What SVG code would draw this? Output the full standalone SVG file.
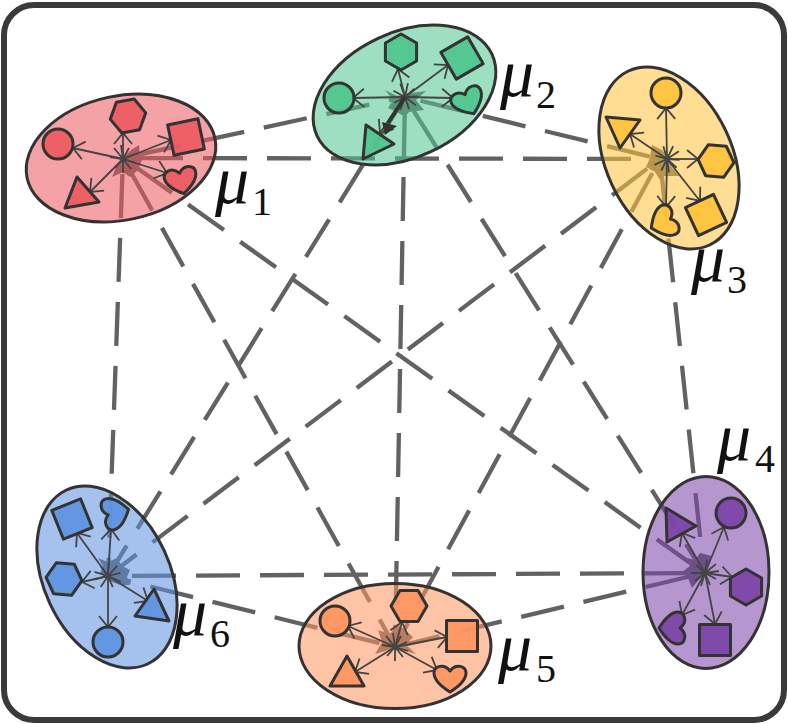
<svg xmlns="http://www.w3.org/2000/svg" width="788" height="724" viewBox="0 0 788 724">
<style>
.frame{fill:#fff;stroke:#3a3a3a;stroke-width:6}
.link{stroke:#626262;stroke-width:4.300;stroke-dasharray:44 20;stroke-dashoffset:48;fill:none}
.hub{fill:#5f5f5f}
.cluster{stroke:#333;stroke-width:3;fill-opacity:.56}
.s{stroke:#333;stroke-width:3;stroke-linejoin:round;fill-opacity:.93}
.a{stroke:#444;stroke-width:1.800;fill:none;marker-end:url(#open)}
.sp{stroke:#444;stroke-width:1.800;fill:none}
.m{font-family:"Liberation Serif","DejaVu Serif",serif;font-style:italic;font-size:68px;fill:#111}
.n{font-family:"Liberation Serif","DejaVu Serif",serif;font-size:40px;fill:#111}
.red{fill:#ec5a60}.green{fill:#50c68e}.yellow{fill:#ffc23c}.purple{fill:#7c44a8}.orange{fill:#ff9460}.blue{fill:#5e93e0}
</style>
<defs>
<marker id="open" markerUnits="userSpaceOnUse" markerWidth="30" markerHeight="30" refX="15" refY="15" orient="auto" overflow="visible"><path d="M4,6 L15,15 L4,24" fill="none" stroke="#444" stroke-width="1.800"/></marker>
<polygon id="hex" points="18,0 9,15.6 -9,15.6 -18,0 -9,-15.6 9,-15.6"/>
<rect id="sq" x="-15.500" y="-15.500" width="31" height="31"/>
<path id="heart" d="M0,14 C-8,9 -16,3 -16,-5 C-16,-12 -6,-15 0,-7 C6,-15 16,-12 16,-5 C16,3 8,9 0,14Z"/>
<path id="spokes" class="sp" d="M0,0L-13,-2M0,0L-9,-11M0,0L-2,-14M0,0L6,-11M0,0L12,-5M0,0L13,4M0,0L8,10M0,0L0,14M0,0L-8,9"/>
</defs>
<rect class="frame" x="4" y="5" width="780" height="715" rx="30"/>
<g id="connectors">
<line class="link" x1="123" y1="158" x2="405" y2="97"/>
<line class="link" x1="123" y1="158" x2="660" y2="159"/>
<line class="link" x1="123" y1="158" x2="704" y2="573"/>
<line class="link" x1="123" y1="158" x2="395" y2="647"/>
<line class="link" x1="123" y1="158" x2="108" y2="576"/>
<line class="link" x1="405" y1="97" x2="660" y2="159"/>
<line class="link" x1="405" y1="97" x2="704" y2="573"/>
<line class="link" x1="405" y1="97" x2="395" y2="647"/>
<line class="link" x1="405" y1="97" x2="108" y2="576"/>
<line class="link" x1="660" y1="159" x2="704" y2="573"/>
<line class="link" x1="660" y1="159" x2="395" y2="647"/>
<line class="link" x1="660" y1="159" x2="108" y2="576"/>
<line class="link" x1="704" y1="573" x2="395" y2="647"/>
<line class="link" x1="704" y1="573" x2="108" y2="576"/>
<line class="link" x1="395" y1="647" x2="108" y2="576"/>
<polygon class="hub" points="139,145 140,156 142,160 138,170 130,177 123,172 112,177 117,165 122,159 131,150"/>
<polygon class="hub" points="385,90 397,96 405,94 426,91 416,100 424,110 409,112 405,117 397,112 388,108 393,100"/>
<polygon class="hub" points="652,145 662,150 667,157 672,168 680,176 664,176 660,180 655,172 646,167 650,158"/>
<polygon class="hub" points="687,558 695,560 700,553 712,556 708,568 703,575 697,582 692,588 688,578 682,572 690,566"/>
<polygon class="hub" points="375,654 382,642 378,630 390,634 397,624 405,630 413,637 406,645 416,654 395,648"/>
<polygon class="hub" points="98,558 108,562 117,558 122,566 130,570 127,577 130,585 120,585 112,582 105,578 100,573 103,566"/>
</g>
<g id="node1">
<ellipse class="cluster red" cx="121" cy="158" rx="96" ry="62" transform="rotate(-12 121 158)"/>
<line class="a" x1="123" y1="159" x2="73" y2="148"/><line class="a" x1="123" y1="159" x2="123" y2="133"/><line class="a" x1="123" y1="159" x2="171" y2="140"/><line class="a" x1="123" y1="159" x2="167" y2="173"/><line class="a" x1="123" y1="159" x2="90" y2="192"/>
<use href="#spokes" transform="translate(123 159)"/>
<circle class="s red" cx="58" cy="144" r="15"/>
<use href="#hex" class="s red" transform="translate(128 116) rotate(-10)"/>
<use href="#sq" class="s red" transform="translate(186 137) rotate(-12)"/>
<use href="#heart" class="s red" transform="translate(181 180) rotate(-12)"/>
<polygon class="s red" points="77,177 99,202 65,208"/>
</g>
<g id="node2">
<ellipse class="cluster green" cx="404.500" cy="95" rx="96.500" ry="62.500" transform="rotate(-25 404.500 95)"/>
<line class="a" x1="405" y1="97" x2="353" y2="98"/><line class="a" x1="405" y1="97" x2="398" y2="69"/><line class="a" x1="405" y1="97" x2="448" y2="65"/><line class="a" x1="405" y1="97" x2="453" y2="98"/><line class="a" x1="405" y1="97" x2="380" y2="133"/>
<use href="#spokes" transform="translate(405 97) rotate(20)"/>
<line x1="405" y1="97" x2="388" y2="123" stroke="#333" stroke-width="4"/>
<polygon points="382,122 397,126 385,135" fill="#333"/>
<circle class="s green" cx="339" cy="98" r="15"/>
<use href="#hex" class="s green" transform="translate(401 52) rotate(30)"/>
<use href="#sq" class="s green" transform="translate(462 58) rotate(-30)"/>
<use href="#heart" class="s green" transform="translate(468 101) rotate(-25)"/>
<polygon class="s green" points="366,125 394,144 363,159"/>
</g>
<g id="node3">
<ellipse class="cluster yellow" cx="669" cy="158" rx="96" ry="63" transform="rotate(65 669 158)"/>
<line class="a" x1="667" y1="159" x2="666" y2="108"/><line class="a" x1="667" y1="159" x2="630" y2="134"/><line class="a" x1="667" y1="159" x2="698" y2="159"/><line class="a" x1="667" y1="159" x2="700" y2="201"/><line class="a" x1="667" y1="159" x2="666" y2="207"/>
<use href="#spokes" transform="translate(667 159) rotate(65)"/>
<circle class="s yellow" cx="666" cy="93" r="15"/>
<polygon class="s yellow" points="606,117 640,120 620,148"/>
<use href="#hex" class="s yellow" transform="translate(716 161) rotate(5)"/>
<use href="#sq" class="s yellow" transform="translate(706 215) rotate(-25)"/>
<use href="#heart" class="s yellow" transform="translate(664 222) rotate(65)"/>
</g>
<g id="node4">
<ellipse class="cluster purple" cx="706" cy="572.500" rx="63" ry="96"/>
<line class="a" x1="705" y1="573" x2="724" y2="527"/><line class="a" x1="705" y1="573" x2="732" y2="577"/><line class="a" x1="705" y1="573" x2="715" y2="624"/><line class="a" x1="705" y1="573" x2="682" y2="615"/><line class="a" x1="705" y1="573" x2="682" y2="533"/>
<use href="#spokes" transform="translate(705 573) rotate(90)"/>
<circle class="s purple" cx="731" cy="513" r="15"/>
<use href="#hex" class="s purple" transform="translate(746 587) rotate(30)"/>
<use href="#sq" class="s purple" transform="translate(715 640)"/>
<use href="#heart" class="s purple" transform="translate(673 628) rotate(90)"/>
<polygon class="s purple" points="666,508 696,526 667,542"/>
</g>
<g id="node5">
<ellipse class="cluster orange" cx="395" cy="646" rx="96" ry="62.500"/>
<line class="a" x1="395" y1="647" x2="348" y2="626"/><line class="a" x1="395" y1="647" x2="402" y2="622"/><line class="a" x1="395" y1="647" x2="447" y2="637"/><line class="a" x1="395" y1="647" x2="355" y2="672"/><line class="a" x1="395" y1="647" x2="437" y2="670"/>
<use href="#spokes" transform="translate(395 647)"/>
<circle class="s orange" cx="335" cy="621" r="15"/>
<use href="#hex" class="s orange" transform="translate(409 606)"/>
<use href="#sq" class="s orange" transform="translate(462 636)"/>
<polygon class="s orange" points="347,656 364,686 330,686"/>
<use href="#heart" class="s orange" transform="translate(450 678)"/>
</g>
<g id="node6">
<ellipse class="cluster blue" cx="107" cy="577" rx="96" ry="63" transform="rotate(65 107 577)"/>
<line class="a" x1="108" y1="576" x2="77" y2="533"/><line class="a" x1="108" y1="576" x2="111" y2="529"/><line class="a" x1="108" y1="576" x2="82" y2="582"/><line class="a" x1="108" y1="576" x2="148" y2="601"/><line class="a" x1="108" y1="576" x2="108" y2="627"/>
<use href="#spokes" transform="translate(108 576) rotate(-65)"/>
<use href="#sq" class="s blue" transform="translate(72 519) rotate(-22)"/>
<use href="#heart" class="s blue" transform="translate(115 513) rotate(-105)"/>
<use href="#hex" class="s blue" transform="translate(64 579) rotate(5)"/>
<polygon class="s blue" points="154,589 169,621 135,616"/>
<circle class="s blue" cx="108" cy="642" r="15"/>
</g>
<g id="labels">
<text class="m" x="215" y="203">μ</text><text class="n" x="252" y="215">1</text>
<text class="m" x="500" y="96">μ</text><text class="n" x="536" y="108">2</text>
<text class="m" x="691" y="281">μ</text><text class="n" x="727" y="293">3</text>
<text class="m" x="717" y="460">μ</text><text class="n" x="755" y="472">4</text>
<text class="m" x="498" y="670">μ</text><text class="n" x="536" y="682">5</text>
<text class="m" x="173" y="635">μ</text><text class="n" x="210" y="647">6</text>
</g>
</svg>
